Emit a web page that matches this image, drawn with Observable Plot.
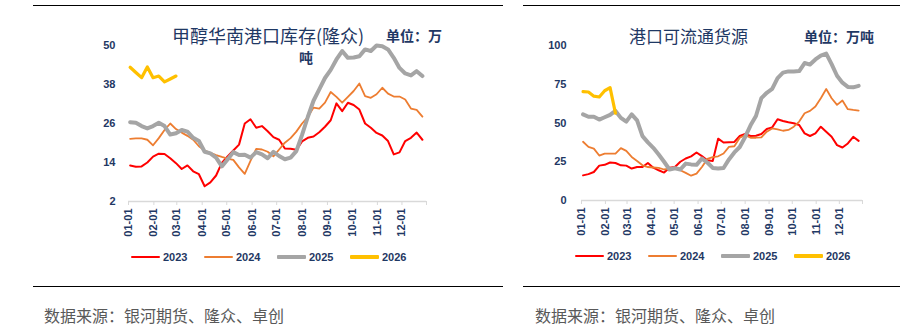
<!DOCTYPE html>
<html>
<head>
<meta charset="utf-8">
<script src="https://cdn.jsdelivr.net/npm/d3@7"></script>
<script src="https://cdn.jsdelivr.net/npm/@observablehq/plot@0.6"></script>
<style>
  html, body { margin: 0; padding: 0; background: #fff; }
  #root { position: relative; width: 911px; height: 330px; overflow: hidden; background: #fff;
          font-family: "Noto Sans CJK SC", "Noto Sans", sans-serif; }
  .hr { position: absolute; height: 1px; background: #000; }
  .txt { position: absolute; white-space: nowrap; line-height: 1; color: #1f3864; }
  .caption { position: absolute; white-space: nowrap; line-height: 1; color: #595959; font-size: 16px; }
  .chart { position: absolute; }
  .leg { position: absolute; display: flex; align-items: center; font-family: "Liberation Sans", Arial, sans-serif;
         font-weight: bold; font-size: 11px; color: #1f3864; }
  .sw { display: inline-block; margin-right: 3px; border-radius: 1px; }
</style>
</head>
<body>
<div id="root"></div>
<script>
// ---------------- data ----------------
const years = ["2023", "2024", "2025", "2026"];
const colors = ["#ff0000", "#ed7d31", "#a5a5a5", "#ffc000"];
const widths = [2, 1.8, 4, 3.2];
const monthLabels = ["01-01","02-01","03-01","04-01","05-01","06-01","07-01","08-01","09-01","10-01","11-01","12-01"];

// 甲醇华南港口库存(隆众), weekly, 万吨
const south2023 = [13.1,12.7,12.8,14.0,15.8,16.7,16.6,15.3,13.8,12.0,13.1,11.3,10.4,6.7,7.9,10.0,13.9,15.9,17.7,19.5,26.0,27.3,24.7,25.2,23.6,21.8,21.0,18.3,18.2,17.9,20.5,21.6,22.0,23.3,25.0,27.0,32.2,29.8,32.4,31.7,30.3,26.0,24.7,23.1,22.3,20.6,16.5,17.1,20.6,21.6,23.2,21.0];
const south2024 = [21.3,21.4,21.4,21.0,19.3,21.5,24.0,26.0,24.3,23.2,22.2,21.0,19.0,17.7,17.0,16.3,15.7,15.2,14.8,12.5,10.5,14.5,18.2,18.0,17.3,15.9,18.0,20.1,21.5,23.5,26.0,28.0,30.9,30.6,32.4,35.7,34.2,32.4,34.2,36.0,38.3,34.4,33.9,35.0,37.0,35.2,34.3,34.3,33.4,30.6,30.2,28.1];
const south2025 = [26.4,26.2,25.2,24.5,25.2,26.2,25.2,22.6,23.0,24.0,23.5,21.6,20.6,17.3,16.8,15.5,12.8,14.9,17.2,16.3,16.4,15.5,17.2,16.5,15.3,17.3,16.0,15.0,15.5,17.5,22.5,28.0,33.0,36.5,40.0,42.5,45.7,48.3,46.2,46.3,46.7,48.8,48.3,50.0,49.8,48.8,46.2,43.1,41.4,40.8,42.1,40.6];
const south2026 = [43.3,41.7,40.1,43.4,40.1,40.6,38.8,39.7,40.6];

// 港口可流通货源, weekly, 万吨
const flow2023 = [16.2,17.0,18.4,22.5,23.0,24.5,24.2,22.7,22.5,20.6,21.6,21.6,24.2,21.2,19.5,18.0,21.2,21.6,25.0,27.1,28.5,31.0,28.6,26.0,25.5,39.9,37.4,37.6,37.8,41.6,42.9,41.6,41.8,42.9,46.1,47.2,52.4,51.3,50.5,49.8,48.7,43.3,41.6,43.3,47.6,44.4,41.1,35.7,34.2,36.8,41.1,38.5];
const flow2024 = [37.9,34.6,33.5,29.0,30.3,30.3,30.3,33.8,32.0,28.1,25.5,22.7,21.6,21.3,21.0,20.0,20.5,21.2,19.5,17.8,16.0,17.3,21.6,26.8,28.0,28.5,30.3,34.6,35.0,40.5,42.2,40.5,40.5,40.7,44.4,46.5,45.9,45.0,45.5,47.6,50.9,56.3,57.8,60.6,66.0,71.9,66.0,61.7,64.5,58.9,58.4,58.0];
const flow2025 = [55.6,54.0,54.1,52.2,53.7,55.2,57.8,53.3,50.9,55.6,51.7,41.5,37.5,34.0,29.7,25.0,20.0,20.8,20.0,23.8,23.3,23.0,27.1,24.5,21.0,20.6,21.0,26.5,31.0,34.5,41.0,48.5,54.5,66.0,69.5,72.0,79.0,82.5,83.3,83.3,83.5,88.7,87.7,91.0,93.5,94.8,88.0,80.5,76.0,73.3,73.0,74.0];
const flow2026 = [70.3,70.0,67.3,66.8,70.8,72.8,56.3];

const southTicks = [2, 14, 26, 38, 50];
const flowTicks = [0, 25, 50, 75, 100];

const NAVY = "#1f3864";
const DAY = 864e5;
const firstWeek = Date.UTC(2023, 0, 3);
const weekDate = i => new Date(firstWeek + i * 7 * DAY);
const monthDates = d3.range(12).map(m => new Date(Date.UTC(2023, m, 1)));
const allTicks = monthDates.concat([new Date(Date.UTC(2023, 11, 31))]);

// ---------------- layout ----------------
const root = document.getElementById("root");
function el(cls, style, text) {
  const d = document.createElement("div");
  d.className = cls;
  Object.assign(d.style, style);
  if (text != null) d.textContent = text;
  root.appendChild(d);
  return d;
}
// frame lines
el("hr", {left: "33px", top: "5px", width: "470px"});
el("hr", {left: "523px", top: "5px", width: "377px"});
el("hr", {left: "33px", top: "286px", width: "470px"});
el("hr", {left: "523px", top: "286px", width: "377px"});

// titles
el("txt", {left: "172px", top: "26px", fontSize: "18px"}, "甲醇华南港口库存(隆众)");
el("txt", {left: "386px", top: "28px", fontSize: "14px", fontWeight: "bold"}, "单位：万");
el("txt", {left: "299px", top: "50px", fontSize: "14px", fontWeight: "bold"}, "吨");
el("txt", {left: "629px", top: "27px", fontSize: "17px"}, "港口可流通货源");
el("txt", {left: "804px", top: "29px", fontSize: "14px", fontWeight: "bold"}, "单位：万吨");

// captions
el("caption", {left: "44px", top: "307px"}, "数据来源：银河期货、隆众、卓创");
el("caption", {left: "535px", top: "307px"}, "数据来源：银河期货、隆众、卓创");

function makeChart(seriesValues, yDomain, yTicks, box, tickPadY) {
  const lines = seriesValues.map((vals, k) =>
    Plot.line(vals.map((v, i) => ({date: weekDate(i), value: v})), {
      x: "date", y: "value", stroke: colors[k], strokeWidth: widths[k],
      strokeLinejoin: "round", strokeLinecap: "round"
    })
  );
  const svg = Plot.plot({
    width: box.width, height: box.height,
    marginLeft: box.ml, marginRight: box.mr, marginTop: box.mt, marginBottom: box.mb,
    style: {fontFamily: "'Liberation Sans', Arial, sans-serif", fontSize: "11px", fontWeight: "bold", background: "transparent"},
    x: {type: "utc", domain: [new Date(Date.UTC(2023, 0, 1)), new Date(Date.UTC(2023, 11, 31))]},
    y: {domain: yDomain},
    marks: [
      Plot.axisY({ticks: yTicks, tickSize: 0, tickPadding: tickPadY, fill: NAVY, fontWeight: "bold", fontSize: 11, label: null}),
      Plot.axisX({ticks: allTicks, tickSize: 4, tickPadding: 3, stroke: "#d9d9d9", fill: NAVY, tickRotate: -90,
                  fontWeight: "bold", fontSize: 11, label: null,
                  tickFormat: d => { const j = monthDates.findIndex(m => +m === +d); return j >= 0 ? monthLabels[j] : ""; }}),
      Plot.ruleY([yDomain[0]], {stroke: "#d9d9d9", strokeWidth: 1.5}),
      ...lines
    ]
  });
  const wrap = el("chart", {left: box.left + "px", top: box.top + "px"});
  wrap.appendChild(svg);
}

makeChart([south2023, south2024, south2025, south2026], [2, 50], southTicks,
  {left: 90, top: 30, width: 350, height: 215, ml: 38, mr: 14, mt: 15, mb: 44}, 13);
makeChart([flow2023, flow2024, flow2025, flow2026], [0, 100], flowTicks,
  {left: 540, top: 30, width: 340, height: 215, ml: 41, mr: 18, mt: 15, mb: 45}, 15);

// legends
function legend(xs, top) {
  years.forEach((y, k) => {
    const item = el("leg", {left: xs[k] + "px", top: top + "px", height: "14px"});
    const sw = document.createElement("span");
    sw.className = "sw";
    Object.assign(sw.style, {width: "29px", height: widths[k] + "px", background: colors[k]});
    item.appendChild(sw);
    const t = document.createElement("span");
    t.textContent = y;
    item.appendChild(t);
  });
}
legend([131, 204, 277, 350], 250);
legend([575, 648, 721, 794], 249);
</script>
</body>
</html>
